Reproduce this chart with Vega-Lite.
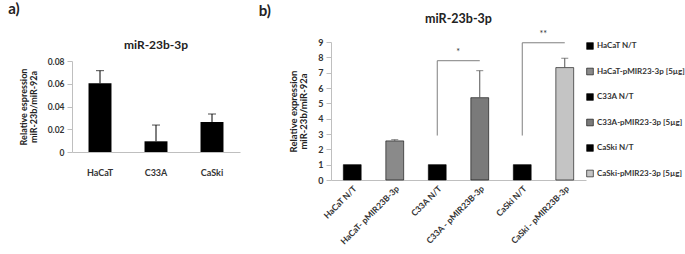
{
  "$schema": "https://vega.github.io/schema/vega-lite/v6.json",
  "padding": {"left": 8, "top": 2, "right": 0, "bottom": 0},
  "background": "white",
  "spacing": 18,
  "columns": 2,
  "align": "none",
  "config": {
    "font": "Lato",
    "view": {"stroke": null},
    "axis": {"grid": false, "domainColor": "#bfbfbf", "tickColor": "#bfbfbf", "labelColor": "#333333", "labelFontWeight": "bold", "titleFontWeight": "bold", "titleColor": "#222222", "labelOverlap": false},
    "title": {"fontWeight": "bold", "color": "#222222"}
  },
  "concat": [
    {
      "title": {"text": "a)", "anchor": "start", "frame": "bounds", "fontSize": 15, "offset": 22, "dx": -11},
      "spacing": -4,
      "vconcat": [
        {
          "width": 168,
          "height": 1,
          "data": {"values": []},
          "mark": "point",
          "encoding": {}
        },
        {
          "width": 168,
          "height": 91,
          "title": {"text": "miR-23b-3p", "fontSize": 12, "offset": 5},
          "data": {"values": [
            {"cell": "HaCaT", "value": 0.0604, "upper": 0.0715},
            {"cell": "C33A", "value": 0.0094, "upper": 0.0237},
            {"cell": "CaSki", "value": 0.0264, "upper": 0.0334}
          ]},
          "encoding": {
            "x": {"field": "cell", "type": "nominal", "sort": null, "scale": {"paddingInner": 0.59, "paddingOuter": 0.295},
                  "axis": {"title": null, "ticks": false, "labelAngle": 0, "labelFontSize": 9, "labelPadding": 16}},
            "y": {"field": "value", "type": "quantitative", "scale": {"domain": [0, 0.08]},
               "axis": {"values": [0, 0.02, 0.04, 0.06, 0.08], "labelOverlap": false, "labelExpr": "datum.value == 0 ? '0' : format(datum.value, '.2f')", "labelFontSize": 8.5, "tickSize": 5, "labelPadding": 3, "title": ["Relative espression", "miR-23b/miR-92a"], "titleFontSize": 9, "titlePadding": 9, "titleLineHeight": 10}}
          },
          "layer": [
            {"mark": {"type": "bar", "color": "black"}},
            {"mark": {"type": "rule", "color": "black"},
             "encoding": {"y2": {"field": "upper"}}},
            {"mark": {"type": "tick", "color": "black", "orient": "horizontal", "size": 8, "thickness": 1},
             "encoding": {"y": {"field": "upper", "type": "quantitative"}}}
          ]
        }
      ]
    },
    {
      "title": {"text": "b)", "anchor": "start", "frame": "bounds", "fontSize": 15, "offset": -6, "dx": -30},
      "vconcat": [
        {
          "width": 255,
          "height": 138,
          "title": {"text": "miR-23b-3p", "fontSize": 12.5, "offset": 4},
          "encoding": {
            "x": {"field": "cell", "type": "nominal",
                  "scale": {"domain": ["HaCaT N/T", "HaCaT- pMIR23B-3p", "C33A N/T", "C33A - pMIR23B-3p", "CaSki  N/T", "CaSki - pMIR23B-3p"], "paddingInner": 0.58, "paddingOuter": 0.29},
                  "axis": {"title": null, "ticks": false, "labelAngle": -45, "labelAlign": "right", "labelBaseline": "top", "labelFontSize": 8.5, "labelPadding": 4, "labelLimit": 300}},
            "y": {"field": "value", "type": "quantitative", "scale": {"domain": [0, 9]},
                  "axis": {"values": [0, 1, 2, 3, 4, 5, 6, 7, 8, 9], "labelOverlap": false, "labelFontSize": 9, "tickSize": 5, "labelPadding": 3, "title": ["Relative expression", "miR-23b/miR-92a"], "titleFontSize": 9.5, "titlePadding": 9, "titleLineHeight": 10}}
          },
          "layer": [
            {
              "data": {"values": [
                {"cell": "HaCaT N/T", "group": "HaCaT N/T", "value": 1},
                {"cell": "HaCaT- pMIR23B-3p", "group": "HaCaT-pMIR23-3p [5µg]", "value": 2.55, "upper": 2.63},
                {"cell": "C33A N/T", "group": "C33A  N/T", "value": 1},
                {"cell": "C33A - pMIR23B-3p", "group": "C33A-pMIR23-3p [5µg]", "value": 5.37, "upper": 7.13},
                {"cell": "CaSki  N/T", "group": "CaSki  N/T", "value": 1},
                {"cell": "CaSki - pMIR23B-3p", "group": "CaSki-pMIR23-3p [5µg]", "value": 7.33, "upper": 7.94}
              ]},
              "layer": [
                {"mark": {"type": "bar", "stroke": "black", "strokeWidth": 0.6},
                 "encoding": {
                   "color": {"field": "group", "type": "nominal",
                     "scale": {"domain": ["HaCaT N/T", "HaCaT-pMIR23-3p [5µg]", "C33A  N/T", "C33A-pMIR23-3p [5µg]", "CaSki  N/T", "CaSki-pMIR23-3p [5µg]"],
                               "range": ["#000000", "#8a8a8a", "#000000", "#7a7a7a", "#000000", "#c4c4c4"]},
                     "legend": {"orient": "right", "offset": 0, "title": null, "padding": 0, "symbolType": "square", "symbolSize": 45, "symbolStrokeColor": "black", "symbolStrokeWidth": 0.6, "labelFontSize": 8, "labelFontWeight": "bold", "labelColor": "#333333", "rowPadding": 15.5, "labelOffset": 3, "labelLimit": 200}}
                 }},
                {"mark": {"type": "rule", "color": "#555555"},
                 "encoding": {"y2": {"field": "upper"}}},
                {"mark": {"type": "tick", "color": "#555555", "orient": "horizontal", "size": 7, "thickness": 1},
                 "encoding": {"y": {"field": "upper", "type": "quantitative"}}}
              ]
            },
            {
              "data": {"values": [
                {"from": "C33A N/T", "to": "C33A - pMIR23B-3p", "top": 7.78, "bottom": 2.9, "label": "*"},
                {"from": "CaSki  N/T", "to": "CaSki - pMIR23B-3p", "top": 8.95, "bottom": 2.9, "label": "**"}
              ]},
              "layer": [
                {"mark": {"type": "rule", "color": "#7f7f7f"},
                 "encoding": {"x": {"field": "from", "type": "nominal"}, "x2": {"field": "to"}, "y": {"field": "top", "type": "quantitative"}}},
                {"mark": {"type": "rule", "color": "#7f7f7f"},
                 "encoding": {"x": {"field": "from", "type": "nominal"}, "y": {"field": "top", "type": "quantitative"}, "y2": {"field": "bottom"}}},
                {"mark": {"type": "text", "dx": 21, "dy": -4, "baseline": "bottom", "fontSize": 9, "color": "#333333"},
                 "encoding": {"x": {"field": "from", "type": "nominal"}, "y": {"field": "top", "type": "quantitative"}, "text": {"field": "label"}}}
              ]
            }
          ]
        }
      ]
    }
  ]
}
